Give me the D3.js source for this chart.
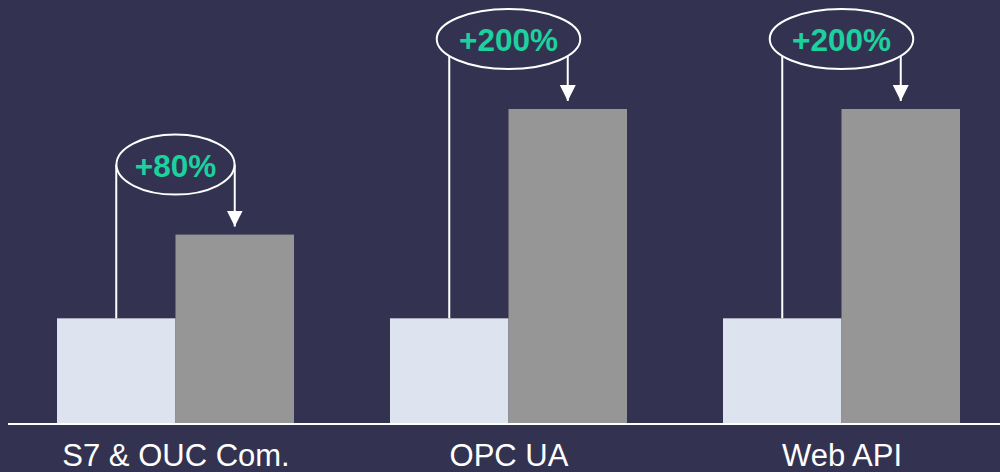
<!DOCTYPE html>
<html>
<head>
<meta charset="utf-8">
<script src="https://cdn.jsdelivr.net/npm/d3@7"></script>
<style>
  html, body { margin: 0; padding: 0; background: #333351; }
  svg { display: block; }
</style>
</head>
<body>
<svg id="chart" width="1000" height="472"></svg>
<script>
const categories = ["S7 & OUC Com.", "OPC UA", "Web API"];
const series = ["before", "after"];
const beforeValues = [1, 1, 1];
const afterValues = [1.8, 3.0, 3.0];
const increaseLabels = ["+80%", "+200%", "+200%"];

const W = 1000, H = 472;
const svg = d3.select("#chart");
const baseY = 423;

const x0 = d3.scalePoint().domain(categories).range([9, 1008]).padding(0.5);
const barW = 118.5;
const x1 = d3.scaleBand().domain(series).range([-barW, barW]);
const y = d3.scaleLinear().domain([0, 3]).range([baseY, 109]);
const color = d3.scaleOrdinal().domain(series).range(["#dee4ef", "#969696"]);

svg.append("rect").attr("width", W).attr("height", H).attr("fill", "#333351");

const data = categories.map((c, i) => ({
  cat: c,
  vals: [{ s: "before", v: beforeValues[i] }, { s: "after", v: afterValues[i] }],
  label: increaseLabels[i]
}));

const g = svg.selectAll("g.grp").data(data).join("g")
  .attr("class", "grp")
  .attr("transform", d => `translate(${x0(d.cat)},0)`);

g.selectAll("rect.bar").data(d => d.vals).join("rect")
  .attr("class", "bar")
  .attr("x", d => x1(d.s))
  .attr("width", x1.bandwidth())
  .attr("y", d => y(d.v))
  .attr("height", d => baseY - y(d.v))
  .attr("fill", d => color(d.s));

// baseline axis
const xAxis = d3.axisBottom(x0).tickSize(0).tickPadding(20);
const axisG = svg.append("g").attr("transform", `translate(0,${baseY + 1})`).call(xAxis);
axisG.select(".domain").remove();
axisG.append("line").attr("x1", 8).attr("x2", 1000).attr("y1", 0).attr("y2", 0)
  .attr("stroke", "#ffffff").attr("stroke-width", 2);
axisG.selectAll(".tick text")
  .attr("fill", "#ffffff")
  .attr("font-family", "'Liberation Sans', Arial, sans-serif")
  .attr("font-size", 31)
  .attr("dy", "0.71em");

// arrow marker
svg.append("defs").append("marker")
  .attr("id", "arrow")
  .attr("viewBox", "0 0 16 16")
  .attr("refX", 16).attr("refY", 8)
  .attr("markerWidth", 16).attr("markerHeight", 16)
  .attr("markerUnits", "userSpaceOnUse")
  .attr("orient", "auto")
  .append("path").attr("d", "M0,0 L16,8 L0,16 Z").attr("fill", "#ffffff");

// annotations
g.each(function(d) {
  const sel = d3.select(this);
  const cxL = x1("before") + x1.bandwidth() / 2;
  const cxR = x1("after") + x1.bandwidth() / 2;
  const topL = y(d.vals[0].v);
  const topR = y(d.vals[1].v);
  const cy = topR - 70;

  const txt = sel.append("text")
    .attr("x", 0).attr("y", cy + 12)
    .attr("text-anchor", "middle")
    .attr("font-family", "'Liberation Sans', Arial, sans-serif")
    .attr("font-weight", "bold")
    .attr("font-size", 31.5)
    .attr("fill", "#1dd19f")
    .text(d.label);
  const tw = txt.node().getComputedTextLength();
  const rx = tw * 0.725;
  const ry = 30;

  sel.insert("line", "text")
    .attr("x1", cxL).attr("x2", cxL).attr("y1", topL).attr("y2", cy)
    .attr("stroke", "#ffffff").attr("stroke-width", 2);
  sel.insert("line", "text")
    .attr("x1", cxR).attr("x2", cxR).attr("y1", cy).attr("y2", topR - 8)
    .attr("stroke", "#ffffff").attr("stroke-width", 2)
    .attr("marker-end", "url(#arrow)");
  sel.insert("ellipse", "text")
    .attr("cx", 0).attr("cy", cy).attr("rx", rx).attr("ry", ry)
    .attr("fill", "#333351").attr("stroke", "#ffffff").attr("stroke-width", 2);
});
</script>
</body>
</html>
